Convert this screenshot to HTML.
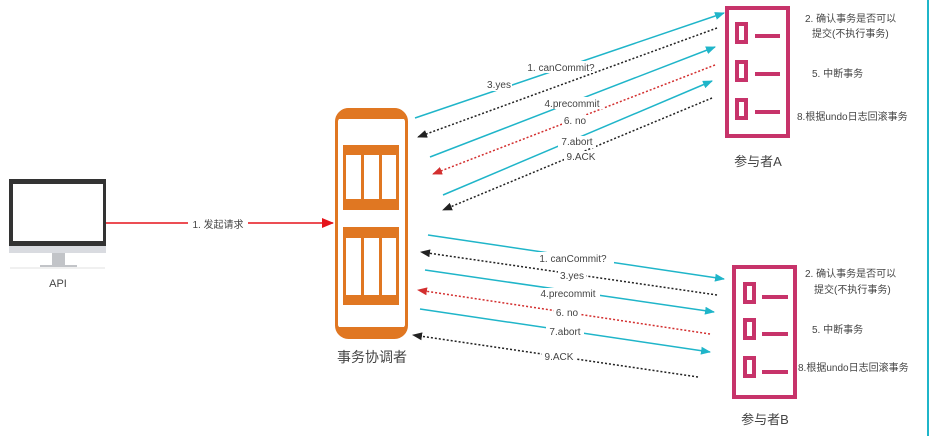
<!DOCTYPE html>
<html><head><meta charset="utf-8"><style>
html,body{margin:0;padding:0;background:#fff;}
svg{display:block;}
text{font-family:"Liberation Sans","Noto Sans CJK SC",sans-serif;fill:#444;}
</style></head><body>
<svg width="929" height="436" viewBox="0 0 929 436" xmlns="http://www.w3.org/2000/svg">
<defs>
<marker id="ac" markerWidth="10" markerHeight="8" refX="9" refY="4" orient="auto" markerUnits="userSpaceOnUse"><path d="M0,0 L10,4 L0,8 z" fill="#1fb5c9"/></marker>
<marker id="ak" markerWidth="10" markerHeight="8" refX="9" refY="4" orient="auto" markerUnits="userSpaceOnUse"><path d="M0,0 L10,4 L0,8 z" fill="#222"/></marker>
<marker id="ar" markerWidth="10" markerHeight="8" refX="9" refY="4" orient="auto" markerUnits="userSpaceOnUse"><path d="M0,0 L10,4 L0,8 z" fill="#d32f2f"/></marker>
<marker id="ar2" markerWidth="12" markerHeight="10" refX="11" refY="5" orient="auto" markerUnits="userSpaceOnUse"><path d="M0,0 L12,5 L0,10 z" fill="#e5141b"/></marker>
</defs>
<line x1="928" y1="0" x2="928" y2="436" stroke="#1fb5c9" stroke-width="2"/>

<!-- Monitor -->
<rect x="9" y="179" width="97" height="67" fill="#333"/>
<rect x="13" y="184" width="90" height="57" fill="#fff"/>
<rect x="9" y="246" width="97" height="7" fill="#d9dbe0"/>
<rect x="52" y="253" width="13" height="12" fill="#c2c4c8"/>
<rect x="40" y="265" width="37" height="2" fill="#c2c4c8"/>
<line x1="10" y1="268" x2="105" y2="268" stroke="#e0e0e0"/>
<text x="58" y="287" font-size="11" text-anchor="middle">API</text>

<line x1="106" y1="223" x2="333" y2="223" stroke="#e5141b" stroke-width="1.5" marker-end="url(#ar2)"/>
<rect x="188" y="217" width="60" height="13" fill="#fff"/>
<text x="218" y="228" font-size="10" text-anchor="middle">1. 发起请求</text>

<!-- Coordinator -->
<rect x="336.5" y="109.5" width="70" height="228" rx="12" fill="none" stroke="#e07722" stroke-width="3"/>
<path d="M336,124 Q336,108 350,108 L393,108 Q407,108 407,124 L404,119 L339,119 z" fill="#e07722"/>
<path d="M336,322 Q336,338 350,338 L393,338 Q407,338 407,322 L404,327 L339,327 z" fill="#e07722"/>
<g fill="#e07722">
<rect x="343" y="145" width="56" height="65"/>
<rect x="343" y="227" width="56" height="78"/>
</g>
<g fill="#fff">
<rect x="346" y="155" width="15" height="44"/><rect x="364" y="155" width="15" height="44"/><rect x="382" y="155" width="14" height="44"/>
<rect x="346" y="238" width="15" height="57"/><rect x="364" y="238" width="15" height="57"/><rect x="382" y="238" width="14" height="57"/>
</g>
<text x="372" y="362" font-size="14" text-anchor="middle">事务协调者</text>

<!-- Participant A -->
<rect x="727" y="8" width="61" height="128" fill="none" stroke="#c7336a" stroke-width="4"/>
<g fill="none" stroke="#c7336a" stroke-width="4">
<rect x="737" y="24" width="9" height="18"/><rect x="737" y="62" width="9" height="18"/><rect x="737" y="100" width="9" height="18"/>
</g>
<g stroke="#c7336a" stroke-width="4">
<line x1="755" y1="36" x2="780" y2="36"/><line x1="755" y1="74" x2="780" y2="74"/><line x1="755" y1="112" x2="780" y2="112"/>
</g>
<text x="758" y="166" font-size="13" text-anchor="middle">参与者A</text>
<g font-size="10">
<text x="805" y="22">2. 确认事务是否可以</text>
<text x="812" y="37">提交(不执行事务)</text>
<text x="812" y="77">5. 中断事务</text>
<text x="797" y="120">8.根据undo日志回滚事务</text>
</g>

<!-- A connectors -->
<g stroke-width="1.5" fill="none">
<line x1="415" y1="118" x2="724" y2="13" stroke="#1fb5c9" marker-end="url(#ac)"/>
<line x1="717" y1="28" x2="418" y2="137" stroke="#222" stroke-dasharray="2,2" marker-end="url(#ak)"/>
<line x1="430" y1="157" x2="715" y2="47" stroke="#1fb5c9" marker-end="url(#ac)"/>
<line x1="715" y1="65" x2="433" y2="174" stroke="#d32f2f" stroke-dasharray="2,2" marker-end="url(#ar)"/>
<line x1="443" y1="195" x2="712" y2="81" stroke="#1fb5c9" marker-end="url(#ac)"/>
<line x1="712" y1="98" x2="443" y2="210" stroke="#222" stroke-dasharray="2,2" marker-end="url(#ak)"/>
</g>
<g font-size="10" text-anchor="middle">
<rect x="528" y="61" width="66" height="12" fill="#fff"/><text x="561" y="71">1. canCommit?</text>
<rect x="486" y="79" width="26" height="12" fill="#fff"/><text x="499" y="88">3.yes</text>
<rect x="540" y="97" width="64" height="12" fill="#fff"/><text x="572" y="107">4.precommit</text>
<rect x="562" y="115" width="26" height="12" fill="#fff"/><text x="575" y="124">6. no</text>
<rect x="558" y="136" width="38" height="12" fill="#fff"/><text x="577" y="145">7.abort</text>
<rect x="564" y="151" width="34" height="12" fill="#fff"/><text x="581" y="160">9.ACK</text>
</g>

<!-- Participant B -->
<rect x="734" y="267" width="61" height="130" fill="none" stroke="#c7336a" stroke-width="4"/>
<g fill="none" stroke="#c7336a" stroke-width="4">
<rect x="745" y="284" width="9" height="18"/><rect x="745" y="320" width="9" height="18"/><rect x="745" y="358" width="9" height="18"/>
</g>
<g stroke="#c7336a" stroke-width="4">
<line x1="762" y1="297" x2="788" y2="297"/><line x1="762" y1="334" x2="788" y2="334"/><line x1="762" y1="372" x2="788" y2="372"/>
</g>
<text x="765" y="424" font-size="13" text-anchor="middle">参与者B</text>
<g font-size="10">
<text x="805" y="277">2. 确认事务是否可以</text>
<text x="814" y="293">提交(不执行事务)</text>
<text x="812" y="333">5. 中断事务</text>
<text x="798" y="371">8.根据undo日志回滚事务</text>
</g>

<!-- B connectors -->
<g stroke-width="1.5" fill="none">
<line x1="428" y1="235" x2="724" y2="279" stroke="#1fb5c9" marker-end="url(#ac)"/>
<line x1="717" y1="295" x2="421" y2="252" stroke="#222" stroke-dasharray="2,2" marker-end="url(#ak)"/>
<line x1="425" y1="270" x2="714" y2="312" stroke="#1fb5c9" marker-end="url(#ac)"/>
<line x1="710" y1="334" x2="418" y2="290" stroke="#d32f2f" stroke-dasharray="2,2" marker-end="url(#ar)"/>
<line x1="420" y1="309" x2="710" y2="352" stroke="#1fb5c9" marker-end="url(#ac)"/>
<line x1="698" y1="377" x2="413" y2="335" stroke="#222" stroke-dasharray="2,2" marker-end="url(#ak)"/>
</g>
<g font-size="10" text-anchor="middle">
<rect x="532" y="252" width="82" height="12" fill="#fff"/><text x="573" y="262">1. canCommit?</text>
<rect x="558" y="270" width="28" height="12" fill="#fff"/><text x="572" y="279">3.yes</text>
<rect x="536" y="288" width="64" height="12" fill="#fff"/><text x="568" y="297">4.precommit</text>
<rect x="554" y="307" width="26" height="12" fill="#fff"/><text x="567" y="316">6. no</text>
<rect x="546" y="326" width="38" height="12" fill="#fff"/><text x="565" y="335">7.abort</text>
<rect x="542" y="351" width="34" height="12" fill="#fff"/><text x="559" y="360">9.ACK</text>
</g>
</svg>
</body></html>
